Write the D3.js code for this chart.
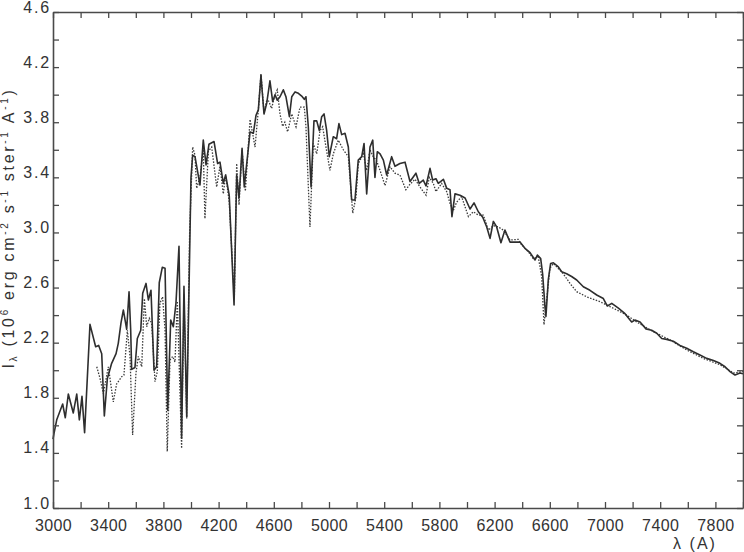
<!DOCTYPE html>
<html>
<head>
<meta charset="utf-8">
<script src="https://cdnjs.cloudflare.com/ajax/libs/d3/7.8.5/d3.min.js"></script>
<style>
    body { margin: 0; background: #fff; }
    svg { display: block; font-family: 'Liberation Sans', Arial, sans-serif; }
</style>
</head>
<body>
<svg width="744" height="552"></svg>
<script>
// model spectrum (solid) and observed spectrum (dotted), wavelength in A
const solidWave = [3000, 3007, 3027, 3070, 3089, 3111, 3147, 3172, 3191, 3210, 3229, 3268, 3309, 3331, 3353, 3372,
    3394, 3425, 3457, 3473, 3493, 3510, 3534, 3551, 3563, 3570, 3594, 3611, 3636, 3650, 3674, 3691, 3710, 3732,
    3751, 3770, 3792, 3812, 3831, 3853, 3872, 3891, 3913, 3932, 3949, 3969, 4000, 4012, 4029, 4065, 4089, 4109,
    4130, 4167, 4193, 4210, 4234, 4251, 4277, 4312, 4331, 4348, 4370, 4386, 4428, 4452, 4471, 4488, 4507, 4529,
    4549, 4572, 4592, 4609, 4625, 4645, 4669, 4688, 4713, 4730, 4754, 4778, 4802, 4821, 4833, 4850, 4870, 4891,
    4911, 4930, 4947, 4964, 4983, 5002, 5031, 5055, 5072, 5092, 5116, 5140, 5164, 5188, 5212, 5237, 5254, 5273,
    5297, 5317, 5333, 5350, 5370, 5394, 5418, 5454, 5478, 5514, 5551, 5587, 5630, 5654, 5683, 5703, 5732, 5751,
    5775, 5792, 5829, 5853, 5877, 5891, 5913, 5949, 5986, 6022, 6051, 6082, 6114, 6143, 6167, 6191, 6215, 6246,
    6275, 6312, 6355, 6384, 6420, 6457, 6493, 6510, 6534, 6548, 6565, 6572, 6589, 6606, 6626, 6662, 6686, 6722,
    6758, 6795, 6843, 6891, 6940, 6988, 7017, 7049, 7097, 7145, 7193, 7217, 7254, 7297, 7338, 7375, 7411, 7447,
    7495, 7543, 7592, 7640, 7688, 7737, 7786, 7833, 7870, 7906, 7942, 7978, 8000];
const solidFlux = [1.50, 1.54, 1.64, 1.755, 1.655, 1.827, 1.69, 1.827, 1.64, 1.81, 1.546, 2.333, 2.17, 2.18, 2.12, 1.668,
    1.94, 2.05, 2.12, 2.195, 2.345, 2.437, 2.297, 2.57, 2.29, 2.006, 2.02, 2.23, 2.29, 2.558, 2.63, 2.51, 2.58, 2.00,
    2.025, 2.635, 2.747, 2.74, 1.71, 2.364, 2.316, 2.486, 2.90, 1.506, 2.61, 1.663, 3.40, 3.56, 3.55, 3.344, 3.67, 3.49,
    3.64, 3.66, 3.50, 3.51, 3.356, 3.417, 3.27, 2.473, 3.417, 3.25, 3.61, 3.33, 3.73, 3.72, 3.85, 3.89, 4.14, 3.86,
    3.94, 4.10, 3.95, 4.00, 3.96, 3.985, 4.035, 3.985, 3.84, 3.985, 4.02, 4.01, 3.99, 3.966, 3.985, 3.767, 3.33, 3.81,
    3.81, 3.74, 3.84, 3.86, 3.74, 3.55, 3.695, 3.68, 3.79, 3.71, 3.72, 3.62, 3.235, 3.235, 3.525, 3.55, 3.646, 3.28,
    3.62, 3.67, 3.40, 3.586, 3.57, 3.525, 3.417, 3.55, 3.48, 3.50, 3.51, 3.37, 3.43, 3.356, 3.38, 3.337, 3.465, 3.38,
    3.39, 3.356, 3.386, 3.32, 3.31, 3.115, 3.28, 3.27, 3.25, 3.17, 3.215, 3.15, 3.11, 3.04, 2.957, 3.08, 3.04, 2.925,
    3.017, 2.93, 2.93, 2.93, 2.885, 2.853, 2.80, 2.836, 2.81, 2.70, 2.46, 2.39, 2.655, 2.775, 2.78, 2.75, 2.715, 2.70,
    2.68, 2.655, 2.606, 2.58, 2.546, 2.52, 2.466, 2.485, 2.45, 2.41, 2.35, 2.364, 2.35, 2.30, 2.29, 2.268, 2.23, 2.224,
    2.21, 2.18, 2.16, 2.134, 2.11, 2.086, 2.07, 2.05, 2.025, 1.99, 1.965, 1.98, 1.975];

const dottedWave = [3317, 3341, 3365, 3401, 3437, 3461, 3498, 3514, 3539, 3558, 3577, 3601, 3618, 3643, 3662, 3679,
    3698, 3715, 3739, 3756, 3775, 3794, 3812, 3828, 3848, 3867, 3884, 3901, 3932, 3949, 3969, 3990, 4012, 4029,
    4041, 4065, 4089, 4101, 4126, 4150, 4186, 4210, 4234, 4251, 4277, 4314, 4331, 4348, 4370, 4394, 4428, 4464,
    4488, 4507, 4529, 4549, 4565, 4584, 4609, 4625, 4645, 4664, 4680, 4700, 4730, 4761, 4790, 4821, 4833, 4862,
    4886, 4911, 4935, 4954, 4978, 5007, 5031, 5067, 5104, 5140, 5172, 5196, 5212, 5249, 5273, 5297, 5320, 5345,
    5370, 5406, 5442, 5478, 5514, 5557, 5587, 5624, 5659, 5703, 5727, 5756, 5775, 5816, 5853, 5877, 5901, 5925,
    5961, 6010, 6046, 6082, 6118, 6155, 6191, 6227, 6263, 6312, 6372, 6396, 6444, 6480, 6517, 6541, 6558, 6577,
    6601, 6626, 6650, 6698, 6746, 6795, 6867, 6964, 7060, 7157, 7230, 7350, 7471, 7592, 7712, 7833, 7930, 8000];
const dottedFlux = [2.025, 1.94, 1.83, 2.025, 1.77, 1.90, 1.953, 1.965, 2.29, 2.10, 1.53, 1.977, 2.10, 2.025, 2.52, 2.316,
    2.377, 2.34, 1.917, 1.99, 2.486, 2.533, 2.29, 1.41, 2.074, 2.10, 2.06, 2.50, 1.433, 2.55, 1.65, 3.0, 3.62, 3.56,
    3.32, 3.40, 3.60, 3.10, 3.59, 3.62, 3.33, 3.48, 3.28, 3.42, 3.22, 2.52, 3.50, 3.20, 3.60, 3.30, 3.82, 3.62,
    3.89, 4.15, 3.87, 3.96, 3.95, 3.90, 4.00, 4.035, 3.86, 3.77, 3.80, 3.73, 3.86, 3.767, 3.91, 3.91, 3.767, 3.04,
    3.646, 3.57, 3.74, 3.767, 3.62, 3.45, 3.57, 3.67, 3.60, 3.55, 3.14, 3.26, 3.50, 3.57, 3.45, 3.60, 3.55, 3.52,
    3.45, 3.34, 3.477, 3.43, 3.417, 3.31, 3.35, 3.386, 3.33, 3.27, 3.40, 3.356, 3.296, 3.356, 3.296, 3.21, 3.16, 3.22,
    3.26, 3.115, 3.15, 3.126, 3.126, 3.017, 3.05, 3.04, 3.017, 2.945, 2.95, 2.91, 2.86, 2.81, 2.82, 2.68, 2.33, 2.51,
    2.74, 2.775, 2.75, 2.70, 2.63, 2.57, 2.533, 2.497, 2.45, 2.40, 2.35, 2.28, 2.22, 2.147, 2.086, 2.04, 1.98, 1.99];

const xTicks = d3.range(3000, 8001, 200);
const yTicks = d3.range(10, 47, 2).map(v => v / 10);

let svg = d3.select('svg'),
    margin = {top: 12, right: 1, bottom: 44, left: 53},
    width = +svg.attr('width') - margin.left - margin.right,
    height = +svg.attr('height') - margin.top - margin.bottom;

let g = svg.append('g').attr('transform', `translate(${margin.left},${margin.top})`);

let x = d3.scaleLinear().domain([3000, 8000]).range([0, width]);
let y = d3.scaleLinear().domain([1.0, 4.6]).range([height, 0]);

const axisColor = '#4a4a4a';
const xLabel = v => (v - 3000) % 400 === 0 ? String(v) : '';
const yLabel = v => Math.round((v - 1) * 10) % 4 === 0 ? v.toFixed(1) : '';

let line = (xs, ys) => d3.line()
    .x((d, i) => x(xs[i]))
    .y((d, i) => y(ys[i]))(xs);

g.append('path')
    .attr('d', line(dottedWave, dottedFlux))
    .attr('fill', 'none')
    .attr('stroke', '#3a3a3a')
    .attr('stroke-width', 1.3)
    .attr('stroke-dasharray', '1.5,1.5');

g.append('path')
    .attr('d', line(solidWave, solidFlux))
    .attr('fill', 'none')
    .attr('stroke', '#2e2e2e')
    .attr('stroke-width', 1.6)
    .attr('stroke-linejoin', 'round');

let axBottom = g.append('g')
    .attr('transform', `translate(0,${height})`)
    .call(d3.axisBottom(x).tickValues(xTicks).tickFormat(xLabel).tickSizeInner(-6).tickSizeOuter(0).tickPadding(12));

let axTop = g.append('g')
    .call(d3.axisTop(x).tickValues(xTicks).tickFormat('').tickSizeInner(-6).tickSizeOuter(0));

let axLeft = g.append('g')
    .call(d3.axisLeft(y).tickValues(yTicks).tickFormat(yLabel).tickSizeInner(-6).tickSizeOuter(0).tickPadding(2));

let axRight = g.append('g')
    .attr('transform', `translate(${width},0)`)
    .call(d3.axisRight(y).tickValues(yTicks).tickFormat('').tickSizeInner(-6).tickSizeOuter(0));

[axBottom, axTop, axLeft, axRight].forEach(a => {
    a.select('.domain').attr('stroke', axisColor).attr('stroke-width', 1.6);
    a.selectAll('.tick line').attr('stroke', axisColor).attr('stroke-width', 1.3);
    a.selectAll('text')
        .attr('fill', '#333')
        .style('font-size', '16px');
});

axBottom.selectAll('text').style('letter-spacing', '0.4px');
axLeft.selectAll('text').attr('dy', '0').style('letter-spacing', '1.8px');

// axis titles
svg.append('text')
    .attr('x', 695)
    .attr('y', 549)
    .attr('text-anchor', 'middle')
    .attr('fill', '#333')
    .style('font-size', '16px')
    .style('letter-spacing', '2px')
    .text('λ (A)');

let yt = svg.append('text')
    .attr('transform', 'translate(14,228) rotate(-90)')
    .attr('text-anchor', 'middle')
    .attr('fill', '#333')
    .style('font-size', '16px')
    .style('letter-spacing', '2.7px');

[['I', 0], ['λ', -1], [' (10', 0], ['6', 1], [' erg cm', 0], ['-2', 1], [' s', 0], ['-1', 1],
    [' ster', 0], ['-1', 1], [' A', 0], ['-1', 1], [')', 0]].forEach(([t, s]) => {
    let ts = yt.append('tspan').text(t);
    if (s !== 0) {
        ts.attr('font-size', '10px').attr('baseline-shift', s > 0 ? '6px' : '-3px');
    }
});
</script>
</body>
</html>
